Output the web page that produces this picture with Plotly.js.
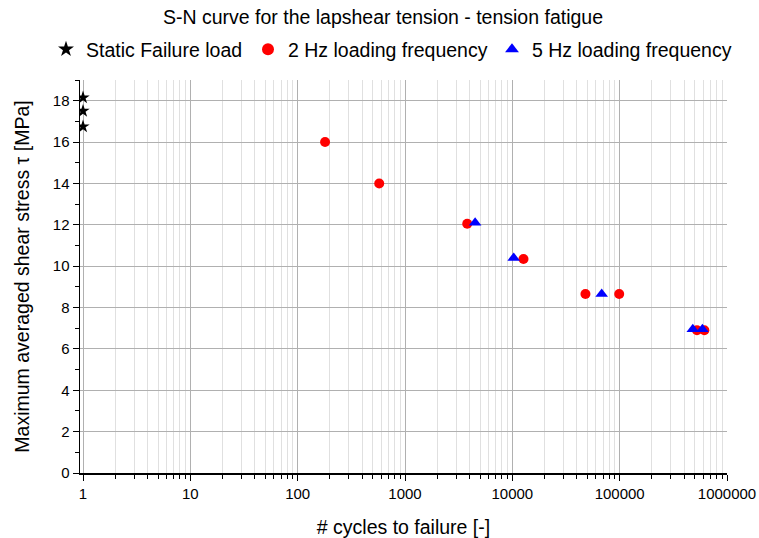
<!DOCTYPE html>
<html>
<head>
<meta charset="utf-8">
<script src="https://cdn.plot.ly/plotly-3.0.1.min.js"></script>
<style>html,body{margin:0;padding:0;background:#fff}#chart{width:759px;height:538px}</style>
</head>
<body>
<div id="chart"></div>
<script>
// Static failure load
const staticCycles = [1, 1, 1];
const staticStress = [18.15, 17.5, 16.75];
// 2 Hz loading frequency
const hz2Cycles = [180, 575, 3800, 12700, 48000, 99000, 525000, 615000];
const hz2Stress = [16.0, 14.0, 12.05, 10.35, 8.65, 8.65, 6.9, 6.9];
// 5 Hz loading frequency
const hz5Cycles = [4500, 10300, 68000, 480000, 590000];
const hz5Stress = [12.1, 10.4, 8.65, 6.95, 6.95];
// axis ticks
const xTickVals = [1, 10, 100, 1000, 10000, 100000, 1000000];
const xTickText = ["1", "10", "100", "1000", "10000", "100000", "1000000"];
const yTickVals = [0, 2, 4, 6, 8, 10, 12, 14, 16, 18];

const font = "Liberation Sans, Arial, sans-serif";

const traces = [
  {x: staticCycles, y: staticStress, mode: "markers", type: "scatter", name: "Static Failure load", legend: "legend",
   marker: {symbol: "star", color: "#000", size: 10}},
  {x: hz2Cycles, y: hz2Stress, mode: "markers", type: "scatter", name: "2 Hz loading frequency", legend: "legend2",
   marker: {symbol: "circle", color: "#ff0000", size: 10}},
  {x: hz5Cycles, y: hz5Stress, mode: "markers", type: "scatter", name: "5 Hz loading frequency", legend: "legend3",
   marker: {symbol: "triangle-up", color: "#0000ff", size: 11}}
];

function leg(xpx) {
  return {orientation: "h", xref: "container", yref: "container", x: xpx / 759, xanchor: "left",
          y: 1 - 30 / 538, yanchor: "top", font: {family: font, size: 19.5, color: "#000"},
          itemsizing: "constant", bgcolor: "rgba(0,0,0,0)", borderwidth: 0};
}

const layout = {
  width: 759, height: 538,
  margin: {l: 80, r: 32, t: 80, b: 65, autoexpand: false},
  paper_bgcolor: "#fff", plot_bgcolor: "#fff",
  font: {family: font, color: "#000", size: 15},
  title: {text: "S-N curve for the lapshear tension - tension fatigue", font: {family: font, size: 19.5, color: "#000"},
          xref: "container", x: 383/759, xanchor: "center", yref: "container", y: 1 - 17/538, yanchor: "middle"},
  showlegend: true,
  legend: leg(46),
  legend2: leg(248),
  legend3: leg(492),
  xaxis: {
    type: "log", range: [-0.028, 6],
    tickvals: xTickVals, ticktext: xTickText,
    ticks: "outside", ticklen: 6, tickwidth: 1, tickcolor: "#000",
    showline: true, linecolor: "#000", linewidth: 1.5, mirror: false,
    showgrid: true, gridcolor: "#b0b0b0", gridwidth: 1,
    zeroline: false,
    minor: {dtick: "D1", ticks: "outside", ticklen: 4, tickcolor: "#000", showgrid: true, gridcolor: "#e0e0e0", gridwidth: 1},
    tickfont: {family: font, size: 15, color: "#000"},
    title: {text: "# cycles to failure [-]", font: {family: font, size: 19.5, color: "#000"}, standoff: 20}
  },
  yaxis: {
    range: [0, 19],
    tickvals: yTickVals,
    ticks: "outside", ticklen: 6, tickwidth: 1, tickcolor: "#000",
    showline: true, linecolor: "#000", linewidth: 1.5, mirror: false,
    showgrid: true, gridcolor: "#b0b0b0", gridwidth: 1,
    zeroline: false,
    minor: {dtick: 1, ticks: "outside", ticklen: 4, tickcolor: "#000", showgrid: false},
    tickfont: {family: font, size: 15, color: "#000"},
    title: {text: "Maximum averaged shear stress τ [MPa]", font: {family: font, size: 19.5, color: "#000"}, standoff: 18}
  }
};

Plotly.newPlot("chart", traces, layout, {displayModeBar: false, staticPlot: true});
</script>
</body>
</html>
